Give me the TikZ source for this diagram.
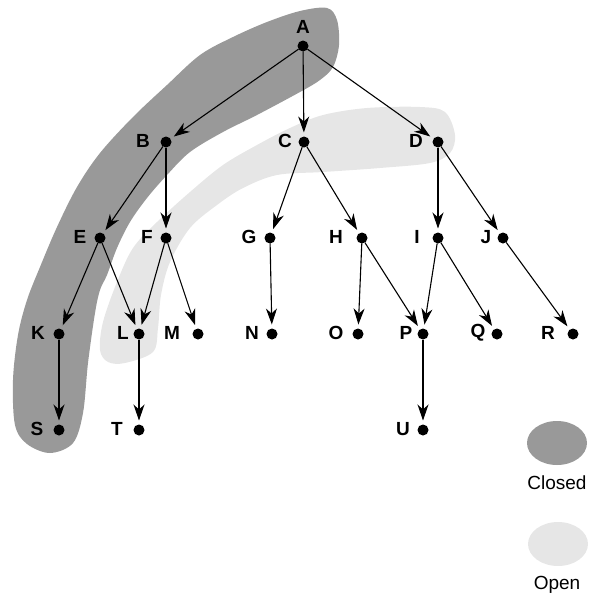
\documentclass[tikz,border=0pt]{standalone}
\usepackage{fontspec}
\setmainfont{Liberation Sans}
\usetikzlibrary{arrows.meta,shapes.geometric}
\definecolor{closedgray}{RGB}{153,153,153}
\definecolor{opengray}{RGB}{230,230,230}
\tikzset{
  dot/.style={circle,fill=black,minimum size=11pt,inner sep=0pt,outer sep=0pt},
  lab/.style={font=\fontsize{19}{19}\selectfont\bfseries,inner sep=0pt},
  legtext/.style={font=\fontsize{19}{19}\selectfont,inner sep=0pt},
  edge/.style={line width=1.1pt,-{Stealth[length=16pt,width=11pt,inset=5pt]},shorten >=4pt}
}
\begin{document}
\begin{tikzpicture}[x=1pt,y=-1pt]
\useasboundingbox (0,0) rectangle (590,597);
% closed band
\fill[closedgray] plot[smooth cycle,tension=0.55] coordinates {
 (337,20) (327,8) (300,11) (267,22) (233,37) (200,55) (167,85) (133,117)
 (100,153) (77,187) (57,227) (40,267) (27,300) (18,335) (13,380) (15,425)
 (27,444) (50,453) (73,443) (83,413) (88,363) (95,313) (100,290) (107,275)
 (117,248) (130,222) (147,198) (167,175) (190,152) (223,132) (257,115)
 (300,92) (320,80) (333,67) (339,45)};
% open band
\fill[opengray] plot[smooth cycle,tension=0.55] coordinates {
 (455,135) (445,112) (420,107) (367,108) (323,115) (290,128) (257,145)
 (223,165) (190,192) (157,222) (133,248) (117,282) (103,322) (100,350)
 (108,362) (125,363) (153,352) (158,328) (161,295) (170,262) (190,228)
 (217,205) (243,188) (277,175) (323,172) (380,168) (430,163) (450,153)};
% dots
\node[dot] (A) at (303,46) {};
\node[dot] (B) at (166,142) {};
\node[dot] (C) at (304,142) {};
\node[dot] (D) at (438,142) {};
\node[dot] (E) at (100,238) {};
\node[dot] (F) at (166,238) {};
\node[dot] (G) at (270,238) {};
\node[dot] (H) at (362,238) {};
\node[dot] (I) at (438,238) {};
\node[dot] (J) at (503,238) {};
\node[dot] (K) at (59,334) {};
\node[dot] (L) at (139,334) {};
\node[dot] (M) at (198,334) {};
\node[dot] (N) at (272,334) {};
\node[dot] (O) at (358,334) {};
\node[dot] (P) at (423,334) {};
\node[dot] (Q) at (497,334) {};
\node[dot] (R) at (573,334) {};
\node[dot] (S) at (59,430) {};
\node[dot] (T) at (139,430) {};
\node[dot] (U) at (423,430) {};
% labels
\node[lab] (lA) at (303,27) {A};
\node[lab] (lB) at (143,141) {B};
\node[lab] (lC) at (285,141) {C};
\node[lab] (lD) at (416,141) {D};
\node[lab] (lE) at (80,237) {E};
\node[lab] (lF) at (147,237) {F};
\node[lab] (lG) at (249,237) {G};
\node[lab] (lH) at (336,237) {H};
\node[lab] (lI) at (417,237) {I};
\node[lab] (lJ) at (486,237) {J};
\node[lab] (lK) at (38,333) {K};
\node[lab] (lL) at (123,333) {L};
\node[lab] (lM) at (172,333) {M};
\node[lab] (lN) at (252,333) {N};
\node[lab] (lO) at (336,333) {O};
\node[lab] (lP) at (406,333) {P};
\node[lab] (lQ) at (478,333) {Q};
\node[lab] (lR) at (548,333) {R};
\node[lab] (lS) at (37,429) {S};
\node[lab] (lT) at (117,429) {T};
\node[lab] (lU) at (403,429) {U};
% edges
\draw[edge] (A) -- (B);
\draw[edge] (A) -- (C);
\draw[edge] (A) -- (D);
\draw[edge] (B) -- (E);
\draw[edge] (B) -- (F);
\draw[edge] (C) -- (G);
\draw[edge] (C) -- (H);
\draw[edge] (D) -- (I);
\draw[edge] (D) -- (J);
\draw[edge] (E) -- (K);
\draw[edge] (E) -- (L);
\draw[edge] (F) -- (L);
\draw[edge] (F) -- (M);
\draw[edge] (G) -- (N);
\draw[edge] (H) -- (O);
\draw[edge] (H) -- (P);
\draw[edge] (I) -- (P);
\draw[edge] (I) -- (Q);
\draw[edge] (J) -- (R);
\draw[edge] (K) -- (S);
\draw[edge] (L) -- (T);
\draw[edge] (P) -- (U);
% legend
\node[ellipse,fill=closedgray,minimum width=60pt,minimum height=44pt,inner sep=0pt] (legC) at (557,443) {};
\node[legtext] (legCt) at (557,483) {Closed};
\node[ellipse,fill=opengray,minimum width=60pt,minimum height=44pt,inner sep=0pt] (legO) at (558,544) {};
\node[legtext] (legOt) at (557,585) {Open};
\end{tikzpicture}
\end{document}
